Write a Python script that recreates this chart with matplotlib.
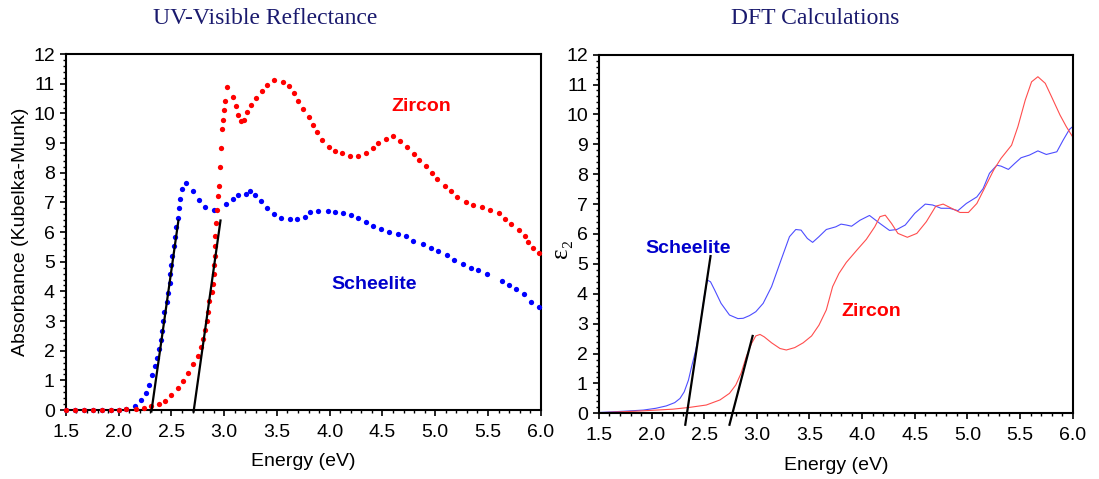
import matplotlib
matplotlib.use("Agg")
import matplotlib.pyplot as plt
from matplotlib.ticker import MultipleLocator

# UV-Vis reflectance (Kubelka-Munk)
uv_zir_e = [1.50, 1.586, 1.67, 1.757, 1.843, 1.93, 2.00, 2.07, 2.16, 2.24, 2.31, 2.38, 2.44,
            2.50, 2.56, 2.61, 2.66, 2.70, 2.75, 2.78, 2.80, 2.82, 2.84, 2.85, 2.86, 2.88,
            2.89, 2.90, 2.90, 2.91, 2.91, 2.915, 2.92, 2.935, 2.94, 2.95, 2.96, 2.97, 2.98,
            2.99, 3.00, 3.01, 3.03, 3.08, 3.11, 3.13, 3.16, 3.19, 3.22, 3.25, 3.30, 3.36,
            3.41, 3.47, 3.56, 3.61, 3.66, 3.70, 3.75, 3.80, 3.84, 3.88, 3.93, 3.99, 4.05,
            4.12, 4.19, 4.27, 4.34, 4.41, 4.46, 4.53, 4.60, 4.67, 4.73, 4.80, 4.85, 4.91,
            4.97, 5.02, 5.09, 5.15, 5.21, 5.29, 5.36, 5.44, 5.52, 5.60, 5.66, 5.72, 5.79,
            5.85, 5.88, 5.93, 5.98]
uv_zir_a = [0.0, 0.0, 0.0, 0.0, 0.0, 0.0, 0.0, 0.02, 0.04, 0.07, 0.12, 0.20, 0.32,
            0.52, 0.75, 0.98, 1.26, 1.55, 1.83, 2.11, 2.40, 2.71, 2.99, 3.32, 3.66, 3.98,
            4.25, 4.60, 4.89, 5.20, 5.53, 5.88, 6.31, 6.74, 7.23, 7.55, 8.19, 8.83, 9.46,
            9.77, 10.10, 10.42, 10.90, 10.55, 10.26, 9.94, 9.75, 9.79, 10.04, 10.29, 10.51, 10.74,
            10.96, 11.12, 11.07, 10.92, 10.68, 10.42, 10.14, 9.88, 9.62, 9.37, 9.11, 8.88, 8.74,
            8.66, 8.55, 8.57, 8.66, 8.82, 9.00, 9.13, 9.24, 9.07, 8.87, 8.63, 8.44, 8.22,
            8.00, 7.78, 7.55, 7.37, 7.18, 7.03, 6.92, 6.85, 6.76, 6.64, 6.44, 6.27, 6.06,
            5.87, 5.66, 5.47, 5.30]

uv_sch_e = [1.50, 1.586, 1.67, 1.757, 1.843, 1.93, 2.00, 2.07, 2.15, 2.21, 2.26, 2.29, 2.32,
            2.34, 2.36, 2.38, 2.40, 2.41, 2.42, 2.43, 2.46, 2.47, 2.49, 2.49, 2.50, 2.51,
            2.52, 2.53, 2.54, 2.56, 2.57, 2.58, 2.60, 2.64, 2.70, 2.76, 2.82, 2.90, 3.02,
            3.08, 3.13, 3.21, 3.24, 3.29, 3.35, 3.41, 3.47, 3.54, 3.62, 3.69, 3.77, 3.81,
            3.89, 3.98, 4.05, 4.13, 4.20, 4.27, 4.34, 4.41, 4.49, 4.56, 4.65, 4.72, 4.79,
            4.88, 4.96, 5.03, 5.11, 5.18, 5.26, 5.34, 5.41, 5.49, 5.63, 5.70, 5.77, 5.84,
            5.91, 5.98]
uv_sch_a = [0.0, 0.0, 0.0, 0.0, 0.0, 0.0, 0.0, 0.02, 0.15, 0.33, 0.57, 0.85, 1.17,
            1.47, 1.77, 2.07, 2.36, 2.66, 3.00, 3.30, 3.63, 3.95, 4.27, 4.58, 4.88, 5.20,
            5.52, 5.85, 6.17, 6.49, 6.81, 7.13, 7.44, 7.65, 7.39, 7.07, 6.85, 6.75, 6.95,
            7.13, 7.25, 7.29, 7.39, 7.26, 7.04, 6.81, 6.62, 6.49, 6.43, 6.43, 6.50, 6.69,
            6.72, 6.72, 6.68, 6.64, 6.58, 6.46, 6.34, 6.21, 6.11, 6.01, 5.95, 5.86, 5.70,
            5.60, 5.47, 5.35, 5.23, 5.06, 4.93, 4.80, 4.71, 4.58, 4.36, 4.23, 4.08, 3.92,
            3.65, 3.46]

# band-gap tangent lines
uv_fit_sch_e = [2.31, 2.566]
uv_fit_zir_e = [2.71, 2.965]
uv_fit_a = [-0.05, 6.39]

# DFT epsilon_2
dft_sch_e = [1.50, 1.73, 1.92, 2.04, 2.14, 2.22, 2.27, 2.31, 2.35, 2.38, 2.42, 2.46, 2.50,
             2.53, 2.56, 2.60, 2.66, 2.74, 2.82, 2.87, 2.93, 2.99, 3.06, 3.14, 3.23, 3.31,
             3.37, 3.42, 3.48, 3.53, 3.59, 3.66, 3.75, 3.80, 3.85, 3.90, 3.98, 4.07, 4.17,
             4.26, 4.33, 4.41, 4.50, 4.60, 4.67, 4.75, 4.83, 4.91, 4.99, 5.09, 5.15, 5.21,
             5.28, 5.32, 5.39, 5.45, 5.51, 5.59, 5.67, 5.75, 5.85, 5.91, 5.97, 6.00]
dft_sch_eps = [0.03, 0.07, 0.11, 0.17, 0.25, 0.36, 0.50, 0.72, 1.11, 1.56, 2.12, 2.90, 3.90,
               4.46, 4.40, 4.12, 3.68, 3.29, 3.17, 3.18, 3.27, 3.40, 3.68, 4.24, 5.13, 5.91,
               6.15, 6.13, 5.85, 5.72, 5.91, 6.15, 6.24, 6.33, 6.30, 6.26, 6.46, 6.62, 6.35,
               6.12, 6.15, 6.30, 6.69, 7.00, 6.97, 6.86, 6.86, 6.78, 7.02, 7.24, 7.52, 8.03,
               8.30, 8.27, 8.16, 8.36, 8.55, 8.64, 8.78, 8.66, 8.75, 9.14, 9.50, 9.59]

dft_zir_e = [1.50, 1.89, 2.20, 2.36, 2.52, 2.65, 2.74, 2.80, 2.85, 2.90, 2.95, 2.99, 3.03,
             3.07, 3.14, 3.22, 3.28, 3.36, 3.44, 3.52, 3.59, 3.66, 3.72, 3.78, 3.85, 3.95,
             4.04, 4.12, 4.17, 4.22, 4.28, 4.34, 4.43, 4.52, 4.61, 4.70, 4.77, 4.85, 4.93,
             5.01, 5.09, 5.17, 5.25, 5.32, 5.42, 5.48, 5.55, 5.61, 5.67, 5.74, 5.80, 5.88,
             5.94, 6.00]
dft_zir_eps = [0.02, 0.08, 0.14, 0.20, 0.28, 0.45, 0.67, 0.95, 1.34, 1.90, 2.34, 2.59, 2.64,
               2.56, 2.36, 2.17, 2.12, 2.20, 2.36, 2.59, 2.95, 3.46, 4.24, 4.68, 5.05, 5.46,
               5.82, 6.24, 6.58, 6.63, 6.35, 6.02, 5.89, 6.02, 6.41, 6.93, 7.00, 6.86, 6.72,
               6.72, 7.02, 7.58, 8.14, 8.53, 8.97, 9.59, 10.48, 11.09, 11.26, 11.04, 10.59, 9.98,
               9.59, 9.25]

dft_fit_sch_e = [2.32, 2.56]
dft_fit_sch_eps = [-0.38, 5.26]
dft_fit_zir_e = [2.74, 2.96]
dft_fit_zir_eps = [-0.38, 2.59]

xticks = [1.5, 2.0, 2.5, 3.0, 3.5, 4.0, 4.5, 5.0, 5.5, 6.0]
yticks = list(range(0, 13))

SANS = ["Liberation Sans", "DejaVu Sans"]
SERIF = ["Liberation Serif", "DejaVu Serif"]
plt.rcParams["font.family"] = SANS
FS = 14

fig = plt.figure(figsize=(10.99, 4.79), dpi=100)
ax1 = fig.add_axes([0.060, 0.144, 0.432, 0.743])
ax2 = fig.add_axes([0.545, 0.137, 0.431, 0.749])


def style(ax):
    ax.set_xlim(1.5, 6.0)
    ax.set_ylim(0, 12)
    ax.set_xticks(xticks)
    ax.set_xticklabels([f"{v:.1f}" for v in xticks])
    ax.set_yticks(yticks)
    ax.xaxis.set_minor_locator(MultipleLocator(0.1))
    ax.yaxis.set_minor_locator(MultipleLocator(0.2))
    ax.tick_params(which="major", direction="out", length=4, width=1.2,
                   labelsize=FS, top=False, right=False)
    ax.tick_params(axis="x", which="major", pad=6)
    ax.tick_params(axis="y", which="major", pad=4)
    ax.tick_params(which="minor", direction="out", length=2.2, width=1.0,
                   top=False, right=False)
    for s in ax.spines.values():
        s.set_linewidth(1.5)
    ax.set_xlabel("Energy (eV)", fontsize=FS, labelpad=9)


style(ax1)
ax1.plot(uv_sch_e, uv_sch_a, "o", color="#0000ff", ms=3.8, mew=0, clip_on=False, zorder=3)
ax1.plot(uv_zir_e, uv_zir_a, "o", color="#ff0000", ms=3.8, mew=0, clip_on=False, zorder=4)
ax1.plot(uv_fit_sch_e, uv_fit_a, color="black", lw=1.6, clip_on=False, zorder=5)
ax1.plot(uv_fit_zir_e, uv_fit_a, color="black", lw=1.6, clip_on=False, zorder=5)
ax1.text(4.87, 10.24, "Zircon", color="#ff0000", fontsize=FS, fontweight="bold",
         ha="center", va="center")
ax1.text(4.42, 4.22, "Scheelite", color="#0000cc", fontsize=FS, fontweight="bold",
         ha="center", va="center")
ax1.set_ylabel("Absorbance (Kubelka-Munk)", fontsize=FS, labelpad=3)

style(ax2)
ax2.plot(dft_sch_e, dft_sch_eps, color="#4d4dff", lw=0.8)
ax2.plot(dft_zir_e, dft_zir_eps, color="#ff4d4d", lw=0.8)
ax2.plot(dft_fit_sch_e, dft_fit_sch_eps, color="black", lw=1.6, clip_on=False, zorder=5)
ax2.plot(dft_fit_zir_e, dft_fit_zir_eps, color="black", lw=1.6, clip_on=False, zorder=5)
ax2.text(2.35, 5.5, "Scheelite", color="#0000cc", fontsize=FS, fontweight="bold",
         ha="center", va="center")
ax2.text(4.09, 3.42, "Zircon", color="#ff0000", fontsize=FS, fontweight="bold",
         ha="center", va="center")
fig.text(561 / 1099, 1 - 248 / 479, "\u025b\u2082", family=SERIF, fontsize=18,
         rotation=90, ha="center", va="center")

fig.text(265 / 1099, 1 - 19 / 479, "UV-Visible Reflectance", family=SERIF,
         fontsize=17, color="#1a1a6e", ha="center", va="center")
fig.text(815 / 1099, 1 - 19 / 479, "DFT Calculations", family=SERIF,
         fontsize=17, color="#1a1a6e", ha="center", va="center")

fig.savefig("out.png", dpi=100)
